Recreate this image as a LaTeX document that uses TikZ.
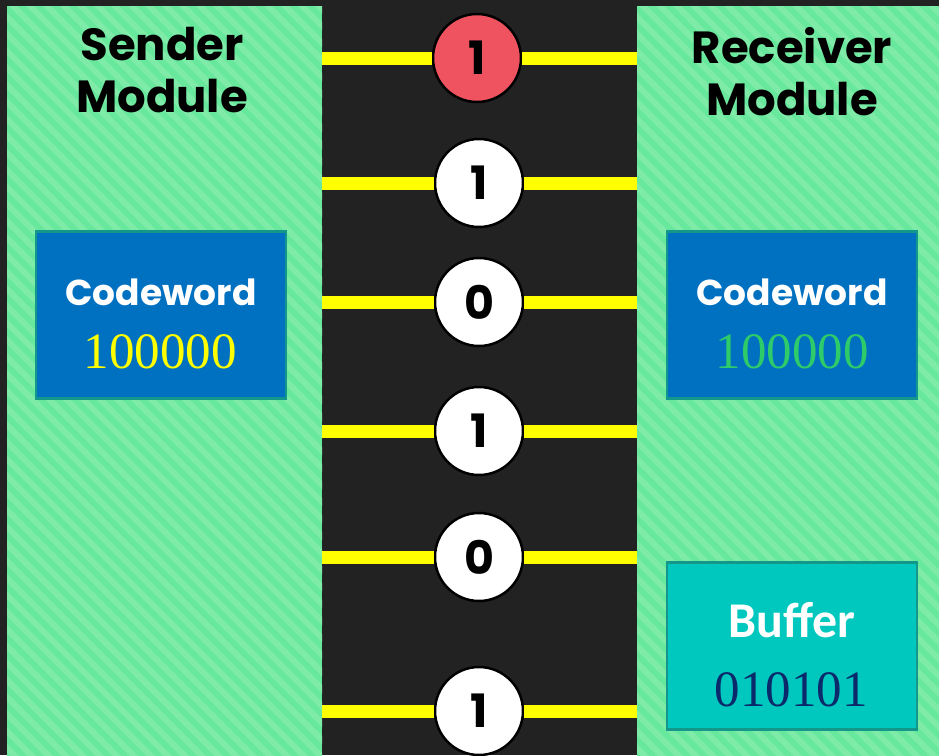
\documentclass[tikz,border=0pt]{standalone}
\usepackage{fontspec}
\newfontfamily\headfont{Poppins}
\newfontfamily\bufffont{Carlito}
\newfontfamily\bitfont{Liberation Serif}
\definecolor{bgdark}{HTML}{222222}
\definecolor{panelgreen}{HTML}{68E89C}
\definecolor{stripegreen}{HTML}{7EEBA8}
\definecolor{wireyellow}{HTML}{FFFF00}
\definecolor{flipred}{HTML}{EF5360}
\definecolor{cwblue}{HTML}{0070C0}
\definecolor{boxedge}{HTML}{12978A}
\definecolor{buffteal}{HTML}{00C8BE}
\definecolor{cwgreen}{HTML}{2DCB6A}
\definecolor{buffnavy}{HTML}{0B2A6B}
\begin{document}
\begin{tikzpicture}[x=1pt,y=-1pt,
		stripe/.style={draw=stripegreen,line width=6pt},
		bitwire/.style={draw=wireyellow,line width=13pt},
		bitnode/.style={circle,draw=black,line width=2.5pt,fill=white,minimum
				size=88pt,inner sep=0pt,font=\headfont\bfseries\fontsize{46}{46}\selectfont},
		flipbit/.style={bitnode,fill=flipred},
		infobox/.style={draw=boxedge,line width=2.5pt,minimum width=250pt,minimum
				height=167pt,inner sep=0pt},
		title/.style={align=center,inner sep=0pt,anchor=north,
				font=\headfont\bfseries\fontsize{45}{52}\selectfont},
		boxlabel/.style={anchor=base,inner sep=0pt,text=white,
				font=\headfont\bfseries\fontsize{36}{36}\selectfont},
		bitstring/.style={anchor=base,inner sep=0pt,font=\bitfont\fontsize{51}{51}\selectfont}]
	\useasboundingbox[fill=bgdark] (0,0) rectangle (939,755);

	% striped module panels
	\foreach \xa/\xb in {7/322,637/939}{
			\fill[panelgreen] (\xa,6) rectangle (\xb,770);
			\begin{scope}
				\clip (\xa,6) rectangle (\xb,770);
				\foreach \s in {-782,-765,...,330}
				\draw[stripe] (\xa+\s,0) -- ++(780,780);
			\end{scope}
		}

	\node[title] (sendtitle) at (162,27) {Sender\\Module};
	\node[title] (recvtitle) at (792,27) {Receiver\\Module};

	% boxes
	\node[infobox,fill=cwblue] (sendcw) at (161,315) {};
	\node[infobox,fill=cwblue] (recvcw) at (792,315) {};
	\node[infobox,fill=buffteal] (buffer) at (792,646) {};

	\node[boxlabel] (sendcwlabel) at (161,305) {Codeword};
	\node[bitstring,text=wireyellow] (sendcwbits) at (160,368) {100000};
	\node[boxlabel] (recvcwlabel) at (792,305) {Codeword};
	\node[bitstring,text=cwgreen] (recvcwbits) at (792,368) {100000};
	\node[boxlabel,font=\bufffont\bfseries\fontsize{50}{50}\selectfont]
	(bufferlabel) at (792,637) {Buffer};
	\node[bitstring,text=buffnavy] (bufferbits) at (791,706) {010101};

	% channel bits
	\foreach \y/\b [count=\i] in {58/1,183/1,302/0,431/1,557/0,711/1}{
			\coordinate (wl\i) at (322,\y);
			\coordinate (wr\i) at (637,\y);
			\ifnum\i=1
				\node[flipbit] (bit\i) at (477,\y) {\b};
			\else
				\node[bitnode] (bit\i) at (479,\y) {\b};
			\fi
			\draw[bitwire] (wl\i) -- (bit\i);
			\draw[bitwire] (bit\i) -- (wr\i);
		}
\end{tikzpicture}
\end{document}
